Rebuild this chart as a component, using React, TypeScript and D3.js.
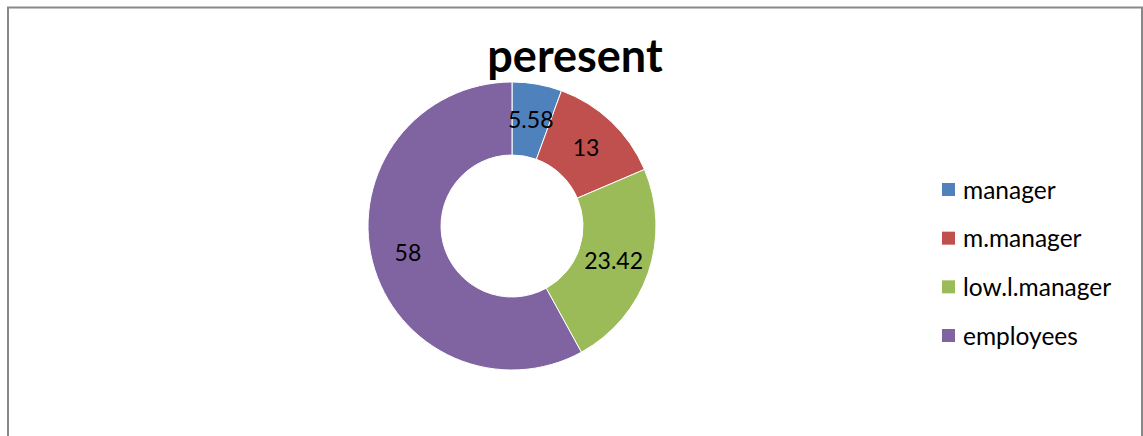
import React from "react";
import * as d3 from "d3";

const categories = ["manager", "m.manager", "low.l.manager", "employees"];
const values = [5.58, 13, 23.42, 58];
const labels = ["5.58", "13", "23.42", "58"];
const colors = ["#4F81BD", "#C0504D", "#9BBB59", "#8064A2"];
const title = "peresent";

export default function App() {
  const W = 1143, H = 436;
  const cx = 512, cy = 226, rOut = 144, rIn = 71;
  const pie = d3.pie<number>().sort(null).value((d) => d)(values);
  const arc = d3.arc<d3.PieArcDatum<number>>().innerRadius(rIn).outerRadius(rOut);
  const font = "Lato, 'Open Sans', sans-serif";
  const legendY = d3.scalePoint<string>().domain(categories).range([190, 336]);
  return (
    <svg width={W} height={H} style={{ position: "fixed", left: 0, top: 0, background: "#fff" }}>
      <rect x={0} y={0} width={W} height={H} fill="#fff" />
      <path d={`M8,${H} V7.5 H1142 V${H}`} fill="none" stroke="#888" strokeWidth={2} />
      <text x={575} y={72} textAnchor="middle" fontFamily={font} fontWeight="bold" fontSize={45} fill="#000">{title}</text>
      <g transform={`translate(${cx},${cy})`}>
        {pie.map((p, i) => (
          <path key={i} d={arc(p) || ""} fill={colors[i]} stroke="#fff" strokeWidth={1} />
        ))}
        {pie.map((p, i) => {
          const [x, y] = arc.centroid(p);
          return (
            <text key={"l" + i} x={x} y={y} dy="0.35em" textAnchor="middle" fontFamily={font} fontSize={23} fill="#000">{labels[i]}</text>
          );
        })}
      </g>
      {categories.map((c, i) => {
        const y = legendY(c) as number;
        return (
          <g key={c}>
            <rect x={942} y={y - 7} width={13} height={13} fill={colors[i]} />
            <text x={963} y={y} dy="0.35em" fontFamily={font} fontSize={24.5} fill="#000">{c}</text>
          </g>
        );
      })}
    </svg>
  );
}
